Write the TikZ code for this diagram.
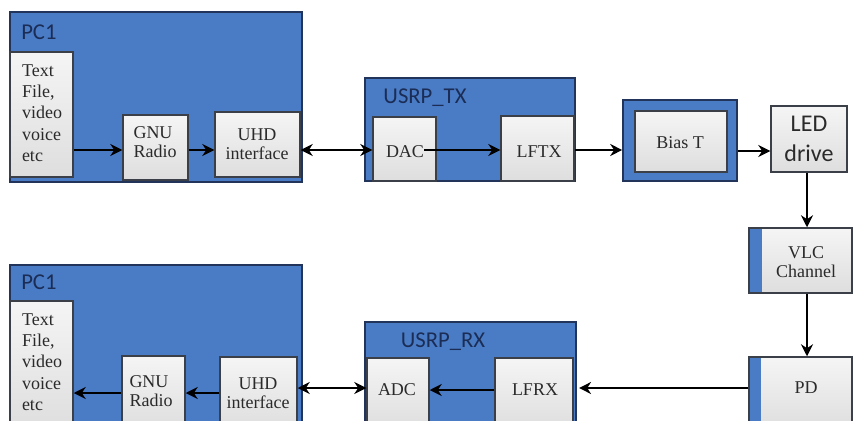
\documentclass[tikz,border=0pt]{standalone}
\usepackage{fontspec}
\setmainfont{Liberation Serif}
\newfontfamily\serf{Liberation Serif}
\newfontfamily\carl{Carlito}
\usetikzlibrary{fit,arrows.meta}
\definecolor{bfill}{HTML}{4A7CC6}
\definecolor{bdraw}{HTML}{22345A}
\definecolor{gdraw}{HTML}{3A3F48}
\definecolor{ltxt}{HTML}{1B2D55}
\definecolor{ttxt}{HTML}{2A2A2A}
\begin{document}
\begin{tikzpicture}[x=0.75pt,y=-0.75pt,
 bluebox/.style={draw=bdraw, line width=1.2pt, fill=bfill, inner sep=0pt},
 inbox/.style={draw=gdraw, line width=1.1pt, top color=white!92!gray, bottom color=white!74!gray, inner sep=0pt},
 strip/.style={fill=bfill, draw=none, inner sep=0pt},
 lbl/.style={font=\carl\fontsize{17}{20}\selectfont, text=ltxt, inner sep=0pt},
 ledlbl/.style={font=\carl\fontsize{18}{22}\selectfont, text=ttxt, inner sep=0pt, align=center},
 ttx/.style={font=\serf\fontsize{13.5}{14.5}\selectfont, text=ttxt, inner sep=0pt, align=center},
 ttxl/.style={font=\serf\fontsize{13.5}{16}\selectfont, text=ttxt, inner sep=0pt, align=left},
 arr/.style={line width=1.9pt, -{Stealth[length=9pt,width=9pt]}},
 darr/.style={line width=1.9pt, {Stealth[length=9pt,width=9pt]}-{Stealth[length=9pt,width=9pt]}}]
\useasboundingbox (0,0) rectangle (853,421);
\clip (0,0) rectangle (853,421);
\fill[white] (0,0) rectangle (853,421);
\coordinate (r1) at (0,150);
\coordinate (r2) at (0,151);
\coordinate (r3) at (0,388);
\coordinate (r4) at (0,390);
\coordinate (r5) at (0,393);
\coordinate (c1) at (807,0);
% ---- top row ----
\node[bluebox, fit={(10,12)(302,182)}] (pc1t) {};
\node[lbl, anchor=west] (pc1tl) at (21,32) {PC1};
\node[inbox, fit={(10,52)(73,177)}] (txt1) {};
\node[ttxl] (txt1t) at (42,113) {Text\\File,\\video\\voice\\etc};
\node[inbox, fit={(123,115)(188,180)}] (gnu1) {};
\node[ttx, align=left] (gnu1t) at (155,142) {GNU\\Radio};
\node[inbox, fit={(215,112)(300,177)}] (uhd1) {};
\node[ttx] (uhd1t) at (257,144) {UHD\\interface};
\node[bluebox, fit={(365,78)(575,181)}] (utx) {};
\node[lbl] (utxl) at (425,98) {USRP\_TX};
\node[inbox, fit={(373,117)(436,181)}] (dac) {};
\node[ttx] (dact) at (405,152) {DAC};
\node[inbox, fit={(501,116)(574,181)}] (lftx) {};
\node[ttx] (lftxt) at (539,152) {LFTX};
\node[bluebox, fit={(623,100)(737,181)}] (bias) {};
\node[inbox, fit={(635,111)(727,172)}] (biasin) {};
\node[ttx] (biast) at (680,143) {Bias T};
\node[inbox, fit={(771,106)(847,172)}] (led) {};
\node[ledlbl] (ledt) at (809,139) {LED\\drive};
% ---- right column ----
\node[inbox, fit={(749,228)(852,293)}] (vlc) {};
\node[strip, fit={(749.8,228.8)(762,292.2)}] (vlcs) {};
\node[ttx] (vlct) at (806,262) {VLC\\Channel};
\node[inbox, fit={(749,357)(852,430)}] (pd) {};
\node[strip, fit={(749.8,357.8)(761,430)}] (pds) {};
\node[ttx] (pdt) at (806,388) {PD};
% ---- bottom row ----
\node[bluebox, fit={(10,265)(302,430)}] (pc1b) {};
\node[lbl, anchor=west] (pc1bl) at (21,282) {PC1};
\node[inbox, fit={(10,301)(73,430)}] (txt2) {};
\node[ttxl] (txt2t) at (42,362) {Text\\File,\\video\\voice\\etc};
\node[inbox, fit={(122,356)(185,430)}] (gnu2) {};
\node[ttx, align=left] (gnu2t) at (151,391) {GNU\\Radio};
\node[inbox, fit={(220,357)(297,430)}] (uhd2) {};
\node[ttx] (uhd2t) at (258,393) {UHD\\interface};
\node[bluebox, fit={(365,322)(576,430)}] (urx) {};
\node[lbl] (urxl) at (443,342) {USRP\_RX};
\node[inbox, fit={(367,358)(429,430)}] (adc) {};
\node[ttx] (adct) at (397,390) {ADC};
\node[inbox, fit={(495,358)(573,430)}] (lfrx) {};
\node[ttx] (lfrxt) at (535,390) {LFRX};
% ---- connectors ----
\draw[arr] (txt1.east |- r1) -- (gnu1.west |- r1);
\draw[arr] (gnu1.east |- r1) -- (uhd1.west |- r1);
\draw[darr] (uhd1.east |- r1) -- (dac.west |- r1);
\draw[arr] (dact.east |- r1) -- (lftx.west |- r1);
\draw[arr] (lftx.east |- r1) -- (bias.west |- r1);
\draw[arr] (bias.east |- r2) -- (led.west |- r2);
\draw[arr] (led.south -| c1) -- (vlc.north -| c1);
\draw[arr] (vlc.south -| c1) -- (pd.north -| c1);
\draw[arr, shorten >=4pt] (pd.west |- r3) -- (lfrx.east |- r3);
\draw[arr] (lfrx.west |- r4) -- (adc.east |- r4);
\draw[darr] (adc.west |- r3) -- (uhd2.east |- r3);
\draw[arr] (uhd2.west |- r5) -- (gnu2.east |- r5);
\draw[arr] (gnu2.west |- r5) -- (txt2.east |- r5);
\end{tikzpicture}
\end{document}
